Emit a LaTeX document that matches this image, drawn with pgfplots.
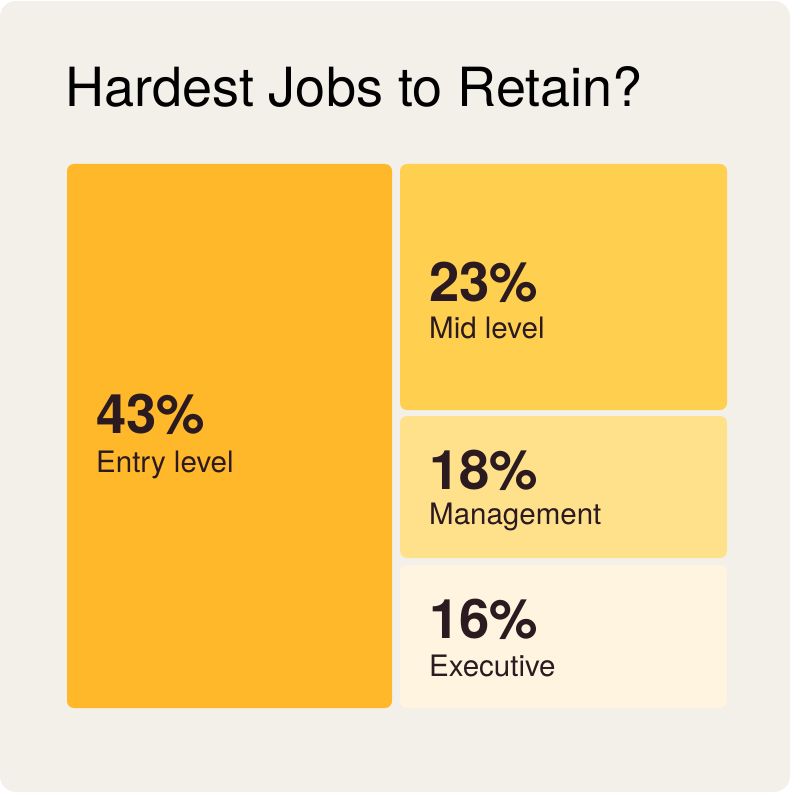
\documentclass[border=0pt]{standalone}
\usepackage{pgfplots}
\pgfplotsset{compat=1.18}
\usepackage{fontspec}
\setmainfont{TeX Gyre Heros}
\definecolor{panel}{HTML}{F3F0E9}
\definecolor{entry}{HTML}{FEB829}
\definecolor{mid}{HTML}{FFD04F}
\definecolor{mgmt}{HTML}{FFE18C}
\definecolor{exec}{HTML}{FFF4DF}
\definecolor{ink}{HTML}{2B1A1F}
\newcommand{\pct}[1]{{\fontsize{54.5bp}{58bp}\selectfont\bfseries #1}}
\newcommand{\lbl}[1]{{\fontsize{29.5bp}{32bp}\selectfont #1}}
\begin{document}
\begin{tikzpicture}
\begin{axis}[
  at={(0,0)}, anchor=south west,
  width=792bp, height=793bp, scale only axis,
  xmin=0, xmax=792, ymin=0, ymax=793, y dir=reverse,
  hide axis, clip=false]
\fill[white] (axis cs:0,0) rectangle (axis cs:792,793);
\fill[panel, rounded corners=16bp] (axis cs:0,1) rectangle (axis cs:790,792);
% treemap tiles (pixel layout), values 43, 23, 18, 16 percent
\addplot[fill=entry, draw=none, rounded corners=7bp] coordinates {(67,164) (392,164) (392,708) (67,708)} -- cycle;
\addplot[fill=mid, draw=none, rounded corners=7bp] coordinates {(400,164) (727,164) (727,410) (400,410)} -- cycle;
\addplot[fill=mgmt, draw=none, rounded corners=7bp] coordinates {(400,416) (727,416) (727,558) (400,558)} -- cycle;
\addplot[fill=exec, draw=none, rounded corners=7bp] coordinates {(400,565) (727,565) (727,708) (400,708)} -- cycle;
\node[anchor=base west, inner sep=0pt, text=black] at (axis cs:65,107) {\fontsize{54bp}{60bp}\selectfont Hardest Jobs to Retain?};
\node[anchor=base west, inner sep=0pt, text=ink] at (axis cs:96,433) {\pct{43\%}};
\node[anchor=base west, inner sep=0pt, text=ink] at (axis cs:96,472) {\lbl{Entry level}};
\node[anchor=base west, inner sep=0pt, text=ink] at (axis cs:429,301) {\pct{23\%}};
\node[anchor=base west, inner sep=0pt, text=ink] at (axis cs:429,338) {\lbl{Mid level}};
\node[anchor=base west, inner sep=0pt, text=ink] at (axis cs:429,489) {\pct{18\%}};
\node[anchor=base west, inner sep=0pt, text=ink] at (axis cs:429,524) {\lbl{Management}};
\node[anchor=base west, inner sep=0pt, text=ink] at (axis cs:429,638) {\pct{16\%}};
\node[anchor=base west, inner sep=0pt, text=ink] at (axis cs:429,676) {\lbl{Executive}};
\end{axis}
\end{tikzpicture}
\end{document}
